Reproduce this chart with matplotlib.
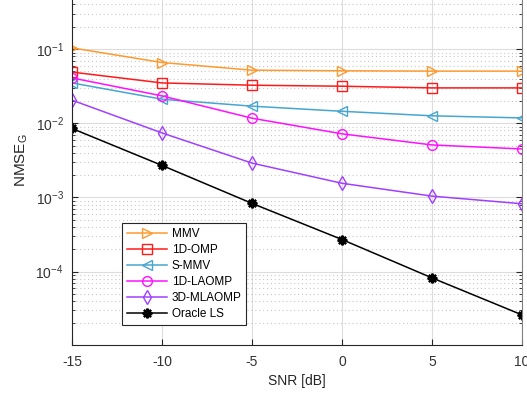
import matplotlib
matplotlib.use("Agg")
import matplotlib.pyplot as plt
from matplotlib.ticker import LogLocator, NullFormatter, FixedLocator

plt.rcParams['font.family'] = ['Liberation Sans', 'DejaVu Sans']
plt.rcParams['mathtext.fontset'] = 'custom'
plt.rcParams['mathtext.rm'] = 'Liberation Sans'
plt.rcParams['mathtext.it'] = 'Liberation Sans:italic'
plt.rcParams['axes.unicode_minus'] = False

snr = [-15, -10, -5, 0, 5, 10]
series_names = ["MMV", "1D-OMP", "S-MMV", "1D-LAOMP", "3D-MLAOMP", "Oracle LS"]
mmv = [0.104, 0.066, 0.052, 0.051, 0.0505, 0.0505]
omp_1d = [0.049, 0.035, 0.0326, 0.0316, 0.030, 0.030]
s_mmv = [0.035, 0.0211, 0.017, 0.0145, 0.0126, 0.0118]
laomp_1d = [0.0409, 0.0234, 0.0117, 0.0072, 0.0051, 0.0045]
mlaomp_3d = [0.0205, 0.0074, 0.0029, 0.00155, 0.00104, 0.00082]
oracle_ls = [0.0085, 0.0027, 0.00083, 0.00027, 8.2e-5, 2.6e-5]

xticks = [-15, -10, -5, 0, 5, 10]
yticks = [1e-4, 1e-3, 1e-2, 1e-1]

colors = ['#FF9A2E', '#FF1A1A', '#46A6D0', '#FF10FF', '#A040FF', '#000000']
markers = ['>', 's', '<', 'o', 'd', (8, 2, 0)]

fig = plt.figure(figsize=(5.27, 3.95), dpi=100)
ax = fig.add_axes([72/527, 50/395, 450/527, 370/395])

data = [mmv, omp_1d, s_mmv, laomp_1d, mlaomp_3d, oracle_ls]
for name, vals, c, m in zip(series_names, data, colors, markers):
    if name == "Oracle LS":
        ax.plot(snr, vals, color=c, marker=m, ms=7, mfc=c, mec=c, mew=1.6, lw=1.1, label=name)
    else:
        ax.plot(snr, vals, color=c, marker=m, ms=7, mfc='none', mec=c, mew=1.0, lw=1.1, label=name)

ax.set_yscale('log')
ax.set_xlim(-15, 10)
ax.set_ylim(1.02e-5, 1e0)
ax.xaxis.set_major_locator(FixedLocator(xticks))
ax.yaxis.set_major_locator(FixedLocator(yticks))
ax.yaxis.set_minor_locator(LogLocator(base=10, subs=range(2, 10), numticks=20))
ax.yaxis.set_minor_formatter(NullFormatter())

ax.grid(True, which='major', axis='both', color='#dcdcdc', lw=0.8, ls='-')
ax.grid(True, which='minor', axis='y', color='#c8c8c8', lw=0.8, ls=(0, (1, 2.5)))
ax.set_axisbelow(True)

for s in ax.spines.values():
    s.set_color('#262626')
    s.set_linewidth(0.8)
ax.spines['right'].set_color('#808080')
ax.spines['top'].set_visible(False)
ax.tick_params(which='both', direction='in', top=False, right=True, colors='#262626',
               labelcolor='#333333', labelsize=10)
ax.tick_params(which='major', length=4)
ax.tick_params(which='minor', length=2)
ax.tick_params(axis='x', pad=7)
ax.tick_params(axis='y', pad=6)

ax.set_xlabel('SNR [dB]', fontsize=10, color='#262626', labelpad=4)
ax.set_ylabel('NMSE$_\\mathregular{G}$', fontsize=11, color='#262626', labelpad=4)

leg = fig.legend(loc='upper left', bbox_to_anchor=(122/527, 1 - 223/395), fontsize=8.5,
                 frameon=True, fancybox=False, edgecolor='#262626', framealpha=1,
                 handlelength=3.4, handletextpad=0.4, borderpad=0.4, labelspacing=0.34,
                 borderaxespad=0)
leg.get_frame().set_linewidth(0.8)

fig.savefig('out.png', dpi=100)
